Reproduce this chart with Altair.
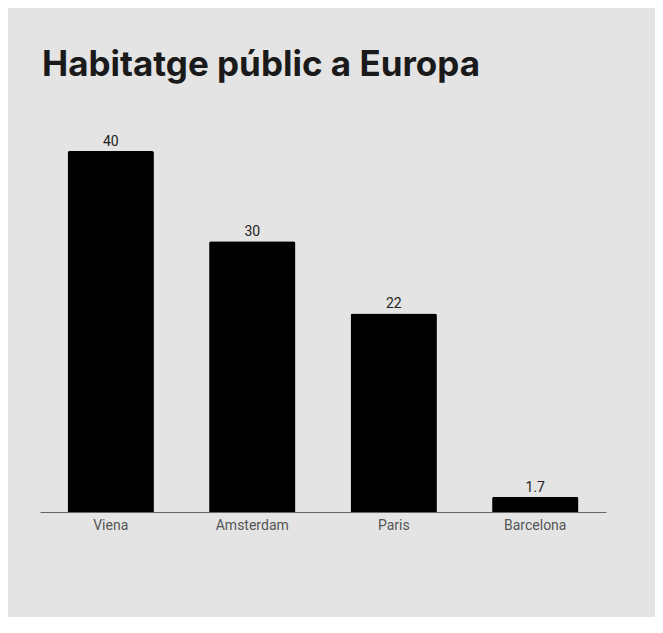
import altair as alt
import pandas as pd

cities = ["Viena", "Amsterdam", "Paris", "Barcelona"]
values = [40, 30, 22, 1.7]
labels = ["40", "30", "22", "1.7"]

df = pd.DataFrame({"city": cities, "value": values, "label": labels})

base = alt.Chart(df).encode(
    x=alt.X("city:N", sort=cities, title=None,
            scale=alt.Scale(paddingInner=0.39, paddingOuter=0.195),
            axis=alt.Axis(labelAngle=0, ticks=False, domainColor="#666666",
                          domainWidth=1, labelColor="#555555", labelFont="Roboto",
                          labelFontSize=14, labelPadding=6)),
    y=alt.Y("value:Q", scale=alt.Scale(domain=[0, 40], nice=False), axis=None),
)

bars = base.mark_bar(color="#000000", cornerRadiusTopLeft=2, cornerRadiusTopRight=2)
text = base.mark_text(dy=-9, font="Roboto", fontSize=14, color="#222222").encode(text="label:N")

chart = (bars + text).properties(
    width=566, height=361,
    autosize=alt.AutoSizeParams(type="none"),
    padding={"left": 32, "top": 143, "right": 49, "bottom": 105},
    background="#e4e4e4",
    title=alt.TitleParams("Habitatge públic a Europa", anchor="start", frame="group",
                          font="Inter", fontSize=35, fontWeight="bold", color="#1a1a1a",
                          offset=52, dx=2),
).configure_view(stroke=None).configure_axis(grid=False)

chart.save("out.html", embed_options={"renderer": "svg", "actions": False})
